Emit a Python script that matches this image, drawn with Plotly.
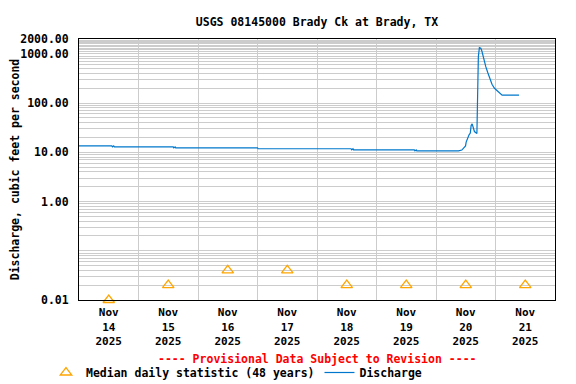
import plotly.graph_objects as go

# ---------------- data ----------------
discharge_time = [
    "2025-11-14 00:00", "2025-11-14 13:15", "2025-11-14 13:30", "2025-11-14 14:00",
    "2025-11-14 14:15", "2025-11-15 14:00", "2025-11-15 14:15", "2025-11-15 14:45",
    "2025-11-15 15:00", "2025-11-17 00:00", "2025-11-17 00:15", "2025-11-18 13:45",
    "2025-11-18 14:00", "2025-11-18 14:30", "2025-11-18 14:45", "2025-11-19 15:15",
    "2025-11-19 15:30", "2025-11-19 16:00", "2025-11-19 16:15", "2025-11-20 09:05",
    "2025-11-20 10:25", "2025-11-20 11:05", "2025-11-20 11:55", "2025-11-20 12:10",
    "2025-11-20 12:40", "2025-11-20 13:20", "2025-11-20 13:50", "2025-11-20 14:10",
    "2025-11-20 14:35", "2025-11-20 15:00", "2025-11-20 15:30", "2025-11-20 16:30",
    "2025-11-20 16:45", "2025-11-20 17:05", "2025-11-20 17:30", "2025-11-20 18:05",
    "2025-11-20 18:30", "2025-11-20 18:55", "2025-11-20 19:25", "2025-11-20 20:05",
    "2025-11-20 20:50", "2025-11-20 21:35", "2025-11-20 22:35", "2025-11-20 23:35",
    "2025-11-21 00:50", "2025-11-21 01:55", "2025-11-21 02:40", "2025-11-21 09:30",
]
discharge_cfs = [
    13.5, 13.5, 12.9, 13.5,
    12.9, 12.9, 12.3, 12.9,
    12.3, 12.3, 11.8, 11.8,
    11.2, 11.8, 11.2, 11.2,
    10.7, 11.2, 10.7, 10.7,
    11.1, 12.2, 13.5, 16.1,
    19.4, 22.6, 24.5, 34.9,
    37.8, 31.8, 26.4, 24.0,
    281, 875, 1331, 1294,
    1142, 917, 693, 549,
    422, 319, 241, 200,
    176, 159, 144.5, 144.5,
]

median_time = ["2025-11-14 12:00", "2025-11-15 12:00", "2025-11-16 12:00", "2025-11-17 12:00",
               "2025-11-18 12:00", "2025-11-19 12:00", "2025-11-20 12:00", "2025-11-21 12:00"]
median_cfs = [0.01, 0.02, 0.04, 0.04, 0.02, 0.02, 0.02, 0.02]

day_labels = ["Nov<br>14<br>2025", "Nov<br>15<br>2025", "Nov<br>16<br>2025", "Nov<br>17<br>2025",
              "Nov<br>18<br>2025", "Nov<br>19<br>2025", "Nov<br>20<br>2025", "Nov<br>21<br>2025"]
day_boundaries = ["2025-11-15", "2025-11-16", "2025-11-17", "2025-11-18",
                  "2025-11-19", "2025-11-20", "2025-11-21"]

y_tickvals = [0.01, 1, 10, 100, 1000, 2000]
y_ticktext = ["0.01", "1.00", "10.00", "100.00", "1000.00", "2000.00"]

# ---------------- styling ----------------
FONT = "DejaVu Sans Mono"
FS = 11.5
GRID = "#cccccc"
W, H = 568, 376          # page adds an 8px body margin
L, R, T, B = 71, 21, 31, 84
PW, PH = W - L - R, H - T - B

minor_y = [m * 10.0 ** e for e in range(-2, 3) for m in range(1, 10)]
minor_y += [1000 + 100 * k for k in range(1, 10)]

fig = go.Figure()
fig.add_trace(go.Scatter(
    x=median_time, y=median_cfs, mode="markers",
    name="Median daily statistic (48 years)",
    marker=dict(symbol="triangle-up-open", size=10, color="#ffa500",
                line=dict(width=1.3, color="#ffa500")),
    cliponaxis=False,
))
fig.add_trace(go.Scatter(
    x=discharge_time, y=discharge_cfs, mode="lines", name="Discharge",
    line=dict(color="#0077cc", width=1.2),
))

fig.update_layout(
    width=W, height=H,
    margin=dict(l=L, r=R, t=T, b=B, autoexpand=False),
    paper_bgcolor="white", plot_bgcolor="white",
    font=dict(family=FONT, size=FS, color="black", weight="bold"),
    title=dict(text="USGS 08145000 Brady Ck at Brady, TX", x=0.5, xref="paper",
               xanchor="center", y=1 - 14 / H, yanchor="middle",
               font=dict(family=FONT, size=FS, weight="bold")),
    showlegend=True,
    legend=dict(orientation="h", x=-33 / PW, xanchor="left", y=-72.5 / PH, yanchor="middle",
                font=dict(family=FONT, size=FS, weight="bold"),
                itemwidth=30, tracegroupgap=0, bgcolor="rgba(0,0,0,0)"),
    annotations=[dict(text="---- Provisional Data Subject to Revision ----",
                      xref="paper", yref="paper", x=0.5, y=-58.5 / PH,
                      xanchor="center", yanchor="middle", showarrow=False,
                      font=dict(family=FONT, size=FS, color="#ff0000", weight="bold"))],
)

fig.update_xaxes(
    type="date", range=["2025-11-14", "2025-11-22"], automargin=False,
    tickmode="array", tickvals=median_time, ticktext=day_labels,
    tickfont=dict(family=FONT, size=11, weight="bold"),
    showgrid=False, ticks="", ticklabelstandoff=2,
    showline=True, linecolor="black", linewidth=1, mirror=True,
    minor=dict(tickmode="array", tickvals=day_boundaries, showgrid=True,
               gridcolor=GRID, gridwidth=1, ticks=""),
    zeroline=False,
)
fig.update_yaxes(
    type="log", range=[-2, 3.30103], automargin=False,
    tickmode="array", tickvals=y_tickvals, ticktext=y_ticktext,
    showgrid=True, gridcolor=GRID, gridwidth=1, ticks="", ticklabelstandoff=7,
    showline=True, linecolor="black", linewidth=1, mirror=True,
    minor=dict(tickmode="array", tickvals=minor_y, showgrid=True,
               gridcolor=GRID, gridwidth=1, ticks=""),
    title=dict(text="Discharge, cubic feet per second", standoff=0,
               font=dict(family=FONT, size=FS, weight="bold")),
    zeroline=False,
)

fig.write_html("out.html")
